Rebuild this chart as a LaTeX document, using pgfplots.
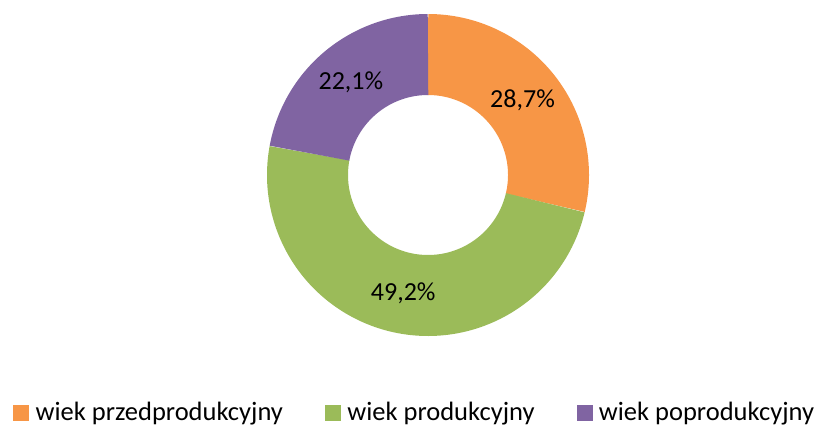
\documentclass[border=0pt]{standalone}
\usepackage{pgfplots}
\usepackage{pgfplotstable}
\pgfplotsset{compat=1.18}
\usepackage{fontspec}
\setmainfont{Carlito}
\definecolor{cA}{HTML}{F79646}
\definecolor{cB}{HTML}{9BBB59}
\definecolor{cC}{HTML}{8064A2}
\pgfplotstableread{
share
28.7
49.2
22.1
}\shares
\begin{document}
\begin{tikzpicture}
\pgfplotstablegetelem{0}{share}\of\shares \let\vA\pgfplotsretval
\pgfplotstablegetelem{1}{share}\of\shares \let\vB\pgfplotsretval
\pgfplotstablegetelem{2}{share}\of\shares \let\vC\pgfplotsretval
\pgfmathsetmacro\aA{90-3.6*\vA}
\pgfmathsetmacro\aB{\aA-3.6*\vB}
\pgfmathsetmacro\aC{\aB-3.6*\vC}
\pgfmathsetmacro\mA{(90+\aA)/2}
\pgfmathsetmacro\mB{(\aA+\aB)/2}
\pgfmathsetmacro\mC{(\aB+\aC)/2}
\pgfkeys{/pgf/number format/.cd,fixed,precision=1,fixed zerofill,use comma,assume math mode=true}
\begin{axis}[x=1pt,y=1pt,xmin=0,xmax=821,ymin=0,ymax=424,
  anchor=south west, at={(0,0)},
  hide axis, scale only axis, clip=false,
  legend columns=3,
  legend style={at={(axis cs:13,11.5)}, anchor=west, draw=none, fill=none,
    inner sep=0pt, font=\fontsize{26.5}{30}\selectfont,
    nodes={inner sep=0pt},
    /tikz/every odd column/.append style={column sep=7pt},
    /tikz/every even column/.append style={column sep=42pt}},
  legend cell align=left]
\addplot[draw=cA, line width=81pt, domain=\aA:90, samples=150, forget plot] ({428+120.5*cos(x)},{249+120.5*sin(x)});
\addplot[draw=cB, line width=81pt, domain=\aB:\aA, samples=200, forget plot] ({428+120.5*cos(x)},{249+120.5*sin(x)});
\addplot[draw=cC, line width=81pt, domain=\aC:\aB, samples=120, forget plot] ({428+120.5*cos(x)},{249+120.5*sin(x)});
\addlegendimage{legend image code/.code={\fill[cA] (0pt,-7.5pt) rectangle (15pt,7.5pt);}}
\addlegendentry{wiek przedprodukcyjny}
\addlegendimage{legend image code/.code={\fill[cB] (0pt,-7.5pt) rectangle (15pt,7.5pt);}}
\addlegendentry{wiek produkcyjny}
\addlegendimage{legend image code/.code={\fill[cC] (0pt,-7.5pt) rectangle (15pt,7.5pt);}}
\addlegendentry{wiek poprodukcyjny}
\node[font=\fontsize{26}{30}\selectfont] at (axis cs:{428+120.5*cos(\mA)},{249+120.5*sin(\mA)}) {\pgfmathprintnumber{\vA}\%};
\node[font=\fontsize{26}{30}\selectfont] at (axis cs:{428+120.5*cos(\mB)},{249+120.5*sin(\mB)}) {\pgfmathprintnumber{\vB}\%};
\node[font=\fontsize{26}{30}\selectfont] at (axis cs:{428+120.5*cos(\mC)},{249+120.5*sin(\mC)}) {\pgfmathprintnumber{\vC}\%};
\end{axis}
\pgfresetboundingbox
\useasboundingbox (0,0) rectangle (821pt,424pt);
\end{tikzpicture}
\end{document}
